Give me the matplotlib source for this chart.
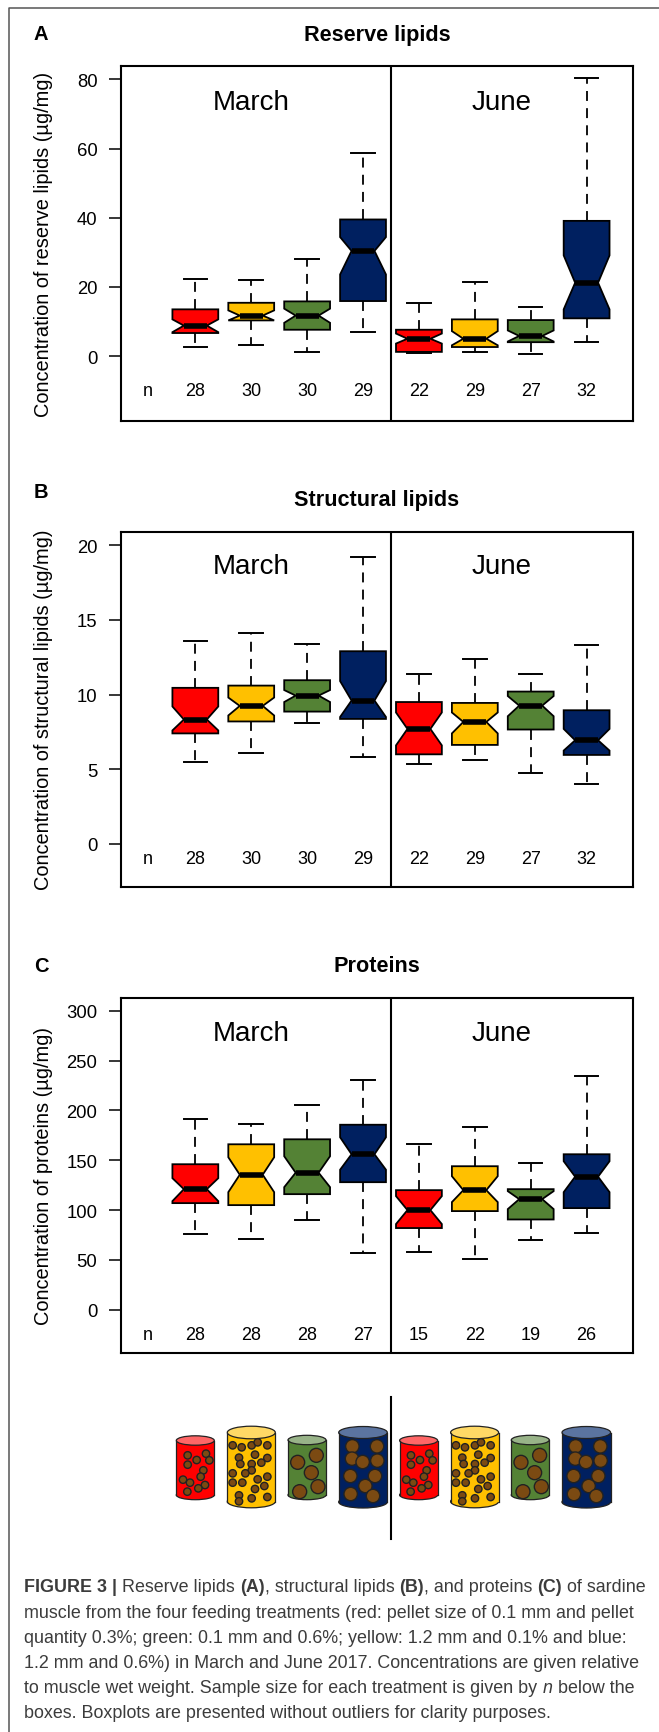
import matplotlib
matplotlib.use('Agg')
import matplotlib.pyplot as plt
from matplotlib.patches import Circle, Ellipse, Rectangle

plt.rcParams['font.family'] = ['Liberation Sans', 'DejaVu Sans']

W, H = 659, 1733

colors = ['#FF0000', '#FFC000', '#548235', '#002060'] * 2
positions = [1, 2, 3, 4, 5, 6, 7, 8]

# values, March then June
a_hi = [22.4, 22.0, 28.0, 58.7, 15.4, 21.5, 14.1, 80.5]
a_q3 = [13.5, 15.4, 15.8, 39.5, 7.6, 10.6, 10.4, 39.1]
a_nhi = [10.6, 13.2, 13.7, 34.4, 6.5, 7.2, 7.4, 29.1]
a_med = [8.8, 11.7, 11.7, 30.4, 5.0, 5.0, 5.8, 21.2]
a_nlo = [6.9, 10.3, 9.6, 23.6, 3.6, 3.1, 4.2, 13.5]
a_q1 = [6.65, 10.3, 7.6, 15.9, 1.2, 2.6, 4.0, 10.9]
a_lo = [2.5, 3.3, 1.3, 7.0, 0.9, 1.2, 0.7, 4.0]
a_n = [28, 30, 30, 29, 22, 29, 27, 32]

b_hi = [13.6, 14.1, 13.4, 19.2, 11.4, 12.4, 11.4, 13.35]
b_q3 = [10.45, 10.6, 10.96, 12.9, 9.5, 9.44, 10.2, 8.95]
b_nhi = [9.2, 9.8, 10.3, 10.9, 8.8, 8.8, 9.9, 7.7]
b_med = [8.33, 9.24, 9.93, 9.6, 7.7, 8.17, 9.26, 6.94]
b_nlo = [7.6, 8.6, 9.5, 8.5, 6.6, 7.4, 8.55, 6.25]
b_q1 = [7.4, 8.2, 8.86, 8.37, 6.0, 6.63, 7.66, 5.96]
b_lo = [5.47, 6.1, 8.1, 5.8, 5.36, 5.6, 4.75, 4.0]
b_n = [28, 30, 30, 29, 22, 29, 27, 32]

c_hi = [191, 186, 205, 230, 166, 183, 147.5, 234]
c_q3 = [146, 166, 171, 185.6, 120, 144, 121, 156]
c_nhi = [132, 153, 154, 173, 114, 134, 119, 149]
c_med = [121, 135.5, 137.5, 156, 100, 120, 111, 133.5]
c_nlo = [109, 118, 123, 140.5, 86, 108, 101, 118]
c_q1 = [107, 105, 116, 128, 82, 99, 90.6, 102]
c_lo = [76, 70.6, 90, 57, 58, 51, 69.6, 76.6]
c_n = [28, 28, 28, 27, 15, 22, 19, 26]

a_ticks = [0, 20, 40, 60, 80]
b_ticks = [0, 5, 10, 15, 20]
c_ticks = [0, 50, 100, 150, 200, 250, 300]

caption = [
    [('FIGURE 3 | ', 'bold'), ('Reserve lipids ', 'normal'), ('(A)', 'bold'), (', structural lipids ', 'normal'),
     ('(B)', 'bold'), (', and proteins ', 'normal'), ('(C)', 'bold'), (' of sardine', 'normal')],
    [('muscle from the four feeding treatments (red: pellet size of 0.1 mm and pellet', 'normal')],
    [('quantity 0.3%; green: 0.1 mm and 0.6%; yellow: 1.2 mm and 0.1% and blue:', 'normal')],
    [('1.2 mm and 0.6%) in March and June 2017. Concentrations are given relative', 'normal')],
    [('to muscle wet weight. Sample size for each treatment is given by ', 'normal'), ('n', 'italic'),
     (' below the', 'normal')],
    [('boxes. Boxplots are presented without outliers for clarity purposes.', 'normal')],
]

# pellet drawings, pixels inside the cylinder icons
red_pellets = [(83, 139), (110, 153), (138, 134), (148, 154), (83, 167), (130, 184), (122, 203), (69, 212),
               (90, 221), (135, 228), (115, 238), (82, 248)]
yellow_pellets = [(218, 109), (245, 115), (275, 109), (293, 100), (322, 109), (285, 137), (237, 146), (322, 147),
                  (241, 165), (275, 165), (304, 161), (275, 184), (218, 193), (256, 193), (322, 203), (293, 211),
                  (218, 221), (247, 221), (313, 231), (285, 240), (237, 259), (275, 268), (322, 264), (237, 277)]
green_pellets = [(413, 160), (469, 139), (454, 191), (419, 248), (474, 233)]
blue_pellets = [(577, 112), (651, 112), (576, 149), (608, 159), (652, 155), (571, 201), (645, 201), (616, 231),
                (572, 255), (639, 261)]


def add_axes_px(fig, left, top, right, bottom):
    return fig.add_axes([left / W, 1 - bottom / H, (right - left) / W, (bottom - top) / H])


def draw_panel(fig, top, ylim, ticks, hi, q3, nhi, med, nlo, q1, lo, counts, n_y, season_y, ylabel):
    ax = add_axes_px(fig, 121, top, 633, top + 355)

    stats = []
    for i in range(len(med)):
        stats.append({'med': med[i], 'q1': q1[i], 'q3': q3[i], 'whislo': lo[i], 'whishi': hi[i],
                      'cilo': nlo[i], 'cihi': nhi[i], 'fliers': []})

    parts = ax.bxp(stats, positions=positions, widths=0.82, capwidths=0.42, shownotches=True,
                   patch_artist=True, showfliers=False, manage_ticks=False,
                   boxprops=dict(linewidth=1.3, edgecolor='black'),
                   medianprops=dict(linewidth=4, color='black', solid_capstyle='butt'),
                   whiskerprops=dict(linewidth=1.3, color='black', linestyle=(0, (5.5, 4))),
                   capprops=dict(linewidth=1.4, color='black'))
    for box, col in zip(parts['boxes'], colors):
        box.set_facecolor(col)

    ax.axvline(4.5, color='black', linewidth=1.5)

    ax.set_xlim(-0.33, 8.83)
    ax.set_ylim(*ylim)
    ax.set_xticks([])
    ax.set_yticks(ticks)
    ax.tick_params(axis='y', length=9, width=1.1, labelsize=13.3, pad=8)
    for s in ax.spines.values():
        s.set_linewidth(1.5)

    ax.text(2, season_y, 'March', fontsize=20, ha='center', va='center')
    ax.text(6.48, season_y, 'June', fontsize=20, ha='center', va='center')
    ax.text(0.15, n_y, 'n', fontsize=13, ha='center', va='center')
    for p, c in zip(positions, counts):
        ax.text(p, n_y, str(c), fontsize=13, ha='center', va='center')

    fig.text(44 / W, 1 - (top + 177.5) / H, ylabel, fontsize=14.4, rotation=90, ha='center', va='center')
    return ax


def draw_cylinder(ax, dx, x0, x1, y_top, y_bot, ry, body, lid, pellets, r):
    cx = (x0 + x1) / 2 + dx
    w = x1 - x0
    ax.add_patch(Ellipse((cx, y_bot), w, 2 * ry, fc=body, ec='#222222', lw=0.9))
    ax.add_patch(Rectangle((cx - w / 2, y_top), w, y_bot - y_top, fc=body, ec='none'))
    ax.plot([cx - w / 2, cx - w / 2], [y_top, y_bot], color='#222222', lw=0.9)
    ax.plot([cx + w / 2, cx + w / 2], [y_top, y_bot], color='#222222', lw=0.9)
    ax.add_patch(Ellipse((cx, y_top), w, 2 * ry, fc=lid, ec='#222222', lw=0.9))
    for x, y in pellets:
        ax.add_patch(Circle((160 + x / 3 + dx, 1410 + y / 3), r, fc='#7B4A12', ec='#222222', lw=1.0))


fig = plt.figure(figsize=(W / 100, H / 100), dpi=100)

# outer frame of the figure
bg = fig.add_axes([0, 0, 1, 1])
bg.set_xlim(0, W)
bg.set_ylim(H, 0)
bg.axis('off')
bg.plot([8.5, 8.5, W], [H, 9, 9], color='#555555', lw=1.1)

draw_panel(fig, 67, (-18.8, 83.9), a_ticks, a_hi, a_q3, a_nhi, a_med, a_nlo, a_q1, a_lo, a_n, -10, 73.4,
           'Concentration of reserve lipids (µg/mg)')
draw_panel(fig, 532.7, (-2.86, 20.9), b_ticks, b_hi, b_q3, b_nhi, b_med, b_nlo, b_q1, b_lo, b_n, -1, 18.6,
           'Concentration of structural lipids (µg/mg)')
draw_panel(fig, 998.7, (-43, 313), c_ticks, c_hi, c_q3, c_nhi, c_med, c_nlo, c_q1, c_lo, c_n, -25, 278,
           'Concentration of proteins (µg/mg)')

for label, title, y in [('A', 'Reserve lipids', 34), ('B', 'Structural lipids', 492), ('C', 'Proteins', 966)]:
    bg.text(34, y, label, fontsize=14.5, fontweight='bold', ha='left', va='center')
    title_y = 500 if label == 'B' else y + 1
    bg.text(377, title_y, title, fontsize=15.6, fontweight='bold', ha='center', va='center')

# treatment icons
for dx in (0, 223.3):
    draw_cylinder(bg, dx, 176.3, 214.3, 1441.5, 1496, 4.7, '#FF0000', '#FF6666', red_pellets, 3.7)
    draw_cylinder(bg, dx, 227.3, 275.3, 1433.5, 1502.5, 6.3, '#FFC000', '#FFD966', yellow_pellets, 3.7)
    draw_cylinder(bg, dx, 288, 326, 1441, 1496, 4.7, '#548235', '#98B388', green_pellets, 7)
    draw_cylinder(bg, dx, 338.7, 387.3, 1433.5, 1503, 6, '#002060', '#5B74A0', blue_pellets, 6.7)
bg.plot([391, 391], [1398, 1540], color='black', lw=1.5)

# caption, one text per style run
renderer = fig.canvas.get_renderer()
for i, line in enumerate(caption):
    x = 24.5
    y = 1588 + i * 25.2
    for s, style in line:
        t = bg.text(x, y, s, fontsize=12.9, color='#3c3c3c', va='center', ha='left',
                    fontweight='bold' if style == 'bold' else 'normal',
                    fontstyle='italic' if style == 'italic' else 'normal')
        x += t.get_window_extent(renderer).width

fig.savefig('out.png', dpi=100)
